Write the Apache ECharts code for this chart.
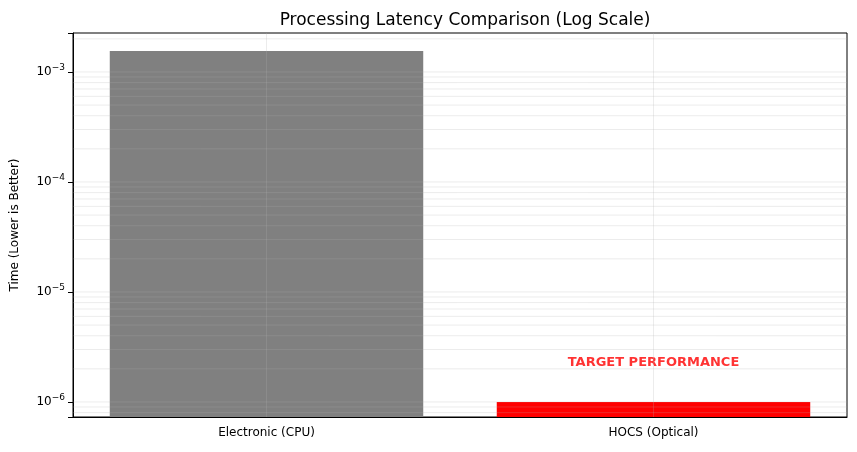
<!DOCTYPE html><html><head><meta charset="utf-8"><script src="https://cdn.jsdelivr.net/npm/echarts@6/dist/echarts.min.js"></script></head><body style="margin:0"><div id="c" style="width:857px;height:452px"></div><script>
var categories=['Electronic (CPU)','HOCS (Optical)'];
var latency=[1.55e-3,1e-6];
var colors=['#808080','#ff0000'];
var majorTicks=[1e-6,1e-5,1e-4,1e-3];
var minorTicks=[];
[1e-7,1e-6,1e-5,1e-4,1e-3].forEach(function(d){for(var k=2;k<=9;k++){var v=d*k;if(v>7.3e-7&&v<2.26e-3)minorTicks.push(v);}});
var yMin=7.3e-7,yMax=2.26e-3;
var gridVals=majorTicks.concat(minorTicks);
var chart=echarts.init(document.getElementById('c'));
chart.setOption({
 animation:false,
 title:{text:'Processing Latency Comparison (Log Scale)',left:460,top:7,textAlign:'center',textStyle:{fontFamily:'DejaVu Sans',fontSize:17,fontWeight:'normal',color:'#000'}},
 grid:{left:73,right:10,top:33,bottom:35,show:true,borderColor:'#000',borderWidth:1,backgroundColor:'transparent'},
 xAxis:{type:'category',data:categories,axisLine:{lineStyle:{color:'#000'}},axisTick:{alignWithLabel:true,lineStyle:{color:'#000'}},axisLabel:{color:'#000',fontFamily:'DejaVu Sans',fontSize:12,margin:10},splitLine:{show:false}},
 yAxis:{type:'log',logBase:10,min:yMin,max:yMax,name:'Time (Lower is Better)',nameLocation:'middle',nameGap:52,nameTextStyle:{color:'#000',fontFamily:'DejaVu Sans',fontSize:12},
  axisLine:{show:true,lineStyle:{color:'#000'}},axisTick:{show:true,lineStyle:{color:'#000'}},splitLine:{show:false},
  axisLabel:{color:'#000',fontFamily:'DejaVu Sans',fontSize:12,formatter:function(v){var e=Math.log10(v);if(Math.abs(e-Math.round(e))>1e-6)return '';return '10{s|'+(Math.round(e)<0?'−':'')+Math.abs(Math.round(e))+'}';},rich:{s:{fontSize:9,verticalAlign:'top',padding:[0,0,8,0],fontFamily:'DejaVu Sans'}}}},
 series:[
 {type:'custom',z:2,data:latency.map(function(v,i){return [i,v];}),
  renderItem:function(params,api){var i=api.value(0);var top=api.coord([i,api.value(1)]);var base=api.coord([i,yMin]);var w=api.size([1,0])[0]*0.81;
   return {type:'rect',shape:{x:top[0]-w/2,y:top[1],width:w,height:base[1]-top[1]},style:{fill:colors[i]}};}},
 {type:'custom',z:5,silent:true,data:gridVals.map(function(v){return [0,v];}),
  renderItem:function(params,api){var p=api.coord([0,api.value(1)]);var cs=params.coordSys;
   return {type:'line',shape:{x1:cs.x,y1:p[1],x2:cs.x+cs.width,y2:p[1]},style:{stroke:'rgba(176,176,176,0.3)',lineWidth:0.8}};}},
 {type:'custom',z:5,silent:true,data:categories.map(function(c,i){return [i,yMin];}),
  renderItem:function(params,api){var p=api.coord([api.value(0),yMin]);var cs=params.coordSys;
   return {type:'line',shape:{x1:p[0],y1:cs.y,x2:p[0],y2:cs.y+cs.height},style:{stroke:'rgba(176,176,176,0.3)',lineWidth:0.8}};}},
 {type:'scatter',symbolSize:0,data:[[1,2.26e-6]],label:{show:true,position:'inside',formatter:'TARGET PERFORMANCE',color:'#ff0000',fontWeight:'bold',fontFamily:'DejaVu Sans',fontSize:13}}
 ]
});
</script></body></html>
